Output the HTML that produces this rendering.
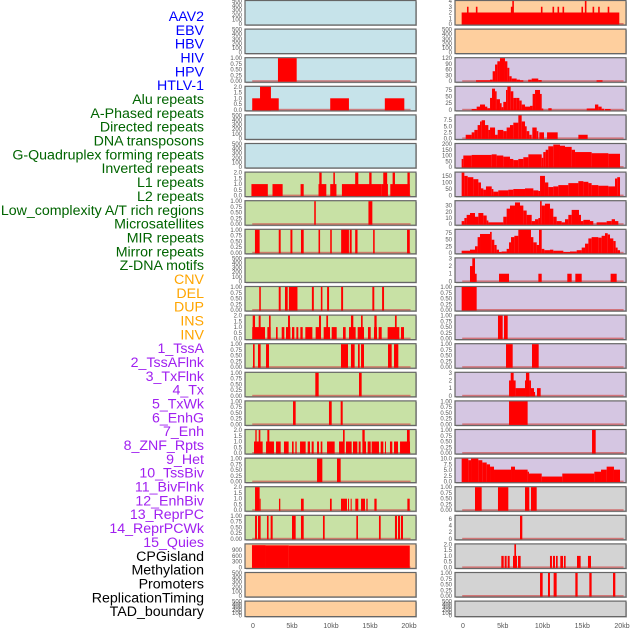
<!DOCTYPE html>
<html><head><meta charset="utf-8"><style>
html,body{margin:0;padding:0;background:#fff;}
svg{display:block;font-family:"Liberation Sans",sans-serif;}
</style></head><body>
<svg id="chart" width="630" height="630" viewBox="0 0 630 630"></svg>
<script>
const labelNames = ["AAV2","EBV","HBV","HIV","HPV","HTLV-1","Alu repeats","A-Phased repeats","Directed repeats","DNA transposons","G-Quadruplex forming repeats","Inverted repeats","L1 repeats","L2 repeats","Low_complexity A/T rich regions","Microsatellites","MIR repeats","Mirror repeats","Z-DNA motifs","CNV","DEL","DUP","INS","INV","1_TssA","2_TssAFlnk","3_TxFlnk","4_Tx","5_TxWk","6_EnhG","7_Enh","8_ZNF_Rpts","9_Het","10_TssBiv","11_BivFlnk","12_EnhBiv","13_ReprPC","14_ReprPCWk","15_Quies","CPGisland","Methylation","Promoters","ReplicationTiming","TAD_boundary"];
const labelColors = ["#0000ff","#0000ff","#0000ff","#0000ff","#0000ff","#0000ff","#006400","#006400","#006400","#006400","#006400","#006400","#006400","#006400","#006400","#006400","#006400","#006400","#006400","#ffa500","#ffa500","#ffa500","#ffa500","#ffa500","#a020f0","#a020f0","#a020f0","#a020f0","#a020f0","#a020f0","#a020f0","#a020f0","#a020f0","#a020f0","#a020f0","#a020f0","#a020f0","#a020f0","#a020f0","#000000","#000000","#000000","#000000","#000000"];
const trackBg = ["#c6e3ea","#c6e3ea","#c6e3ea","#c6e3ea","#c6e3ea","#c6e3ea","#c8e1a5","#c8e1a5","#c8e1a5","#c8e1a5","#c8e1a5","#c8e1a5","#c8e1a5","#c8e1a5","#c8e1a5","#c8e1a5","#c8e1a5","#c8e1a5","#c8e1a5","#fecf9e","#fecf9e","#fecf9e","#fecf9e","#fecf9e","#d5c6e2","#d5c6e2","#d5c6e2","#d5c6e2","#d5c6e2","#d5c6e2","#d5c6e2","#d5c6e2","#d5c6e2","#d5c6e2","#d5c6e2","#d5c6e2","#d5c6e2","#d5c6e2","#d5c6e2","#d3d3d3","#d3d3d3","#d3d3d3","#d3d3d3","#d3d3d3"];
const T500=[0,100,200,300,400,500], T1=[0,0.25,0.5,0.75,1], T2=[0,0.5,1,1.5,2];
const trackTicks = [T500,T500,T1,T2,T500,T500,T2,T1,T1,T500,T1,T2,T1,T1,T1,T2,T1,T2,T1,[0,300,600,900],T500,T500,
 [0,1,2,3,4],T500,[0,30,60,90,120],[0,25,50,75],[0,2.5,5,7.5],[0,50,100,150,200],[0,50,100,150],[0,10,20,30],[0,25,50,75],[0,1,2,3],T1,T1,T1,[0,1,2,3],T1,T1,[0,2.5,5,7.5,10],T1,[0,2,4,6],T2,T1,T500];
const trackYMax = [500,500,1,2,500,500,2,1,1,500,1,2,1,1,1,2,1,2,1,1200,500,500,
 4,500,120,87,9.5,200,175,37,88,3,1,1,1,3,1,1,10,1,7,2,1,500];
const trackSegs = [
 [],[],
 [[3.2,5.6,1]],
 [[-0.1,3.3,1],[0.9,2.3,2],[9.9,12.3,1],[16.9,19.4,1]],
 [],[],
 [[-0.2,1.9,1],[2.5,3.8,1],[6.1,6.5,1],[8.4,9.4,1],[8.5,8.8,2],[9.9,10.7,1],[10.3,10.5,2],[11.4,16.5,1],[13.1,13.5,2],[14.9,15.2,2],[16.5,17.3,1],[16.7,17.2,2],[17.6,20.1,1],[17.9,18.2,2],[19.8,20.1,2]],
 [[7.85,8.05,1],[14.8,15.3,1]],
 [[0.25,0.85,1],[3.3,3.55,1],[4.8,5.05,1],[6.15,6.5,1],[8.4,8.6,1],[9.9,10.1,1],[11.3,12.3,1],[12.4,12.65,1],[13.1,13.4,1],[15.4,15.6,1],[19.75,20.1,1]],
 [],
 [[0.8,1.0,1],[3.3,3.55,1],[4.1,4.45,1],[4.6,5.7,1],[7.55,7.8,1],[8.7,8.9,1],[9.5,9.75,1],[11.3,11.55,1],[15.3,15.55,1],[16.55,16.8,1]],
 [[-0.1,1.54,1],[-0.04,0.26,2],[0.73,0.98,2],[1.84,2.26,1],[2.05,2.26,2],[2.95,3.16,1],[3.68,4.02,1],[4.23,4.79,1],[4.49,4.74,2],[5.0,5.3,1],[5.56,5.81,1],[6.07,6.37,1],[6.71,7.61,1],[8.03,8.72,1],[8.46,8.72,2],[9.06,9.87,1],[9.4,9.62,2],[10.09,10.73,1],[11.54,11.88,1],[12.31,13.16,1],[12.56,12.86,2],[13.42,14.23,1],[13.85,14.06,2],[14.74,15.09,1],[15.51,15.9,1],[15.56,15.85,2],[16.11,16.5,1],[17.26,18.76,1],[18.2,18.42,2],[18.97,19.36,1]],
 [[0,0.21,1],[0.64,0.98,1],[1.67,2.05,1],[11.28,12.18,1],[12.56,13.03,1],[13.46,13.68,1],[13.85,14.23,1],[17.31,17.78,1],[18.08,18.63,1]],
 [[7.99,8.42,1],[13.59,13.93,1]],
 [[5.13,5.47,1],[9.74,10.09,1],[11.24,11.5,1]],
 [[0.13,1.24,1],[0.3,0.47,2],[0.73,0.94,2],[1.67,2.69,1],[1.84,2.09,2],[2.95,3.55,1],[3.97,4.57,1],[5.0,5.21,1],[5.43,5.6,1],[6.03,6.75,1],[7.01,7.31,1],[7.52,7.78,1],[8.21,8.46,1],[8.68,8.89,1],[9.49,10.47,1],[11.03,11.67,1],[11.54,11.75,2],[11.92,12.65,1],[12.82,13.38,1],[13.55,13.8,1],[14.1,14.49,1],[14.02,14.32,2],[14.7,15.09,1],[15.21,16.15,1],[16.37,16.71,1],[16.92,17.05,1],[17.56,17.86,1],[18.08,18.59,1],[18.85,20.13,1],[19.74,20.09,2]],
 [[8.21,8.89,1],[10.77,11.24,1]],
 [[0.26,0.85,2],[0.85,0.98,1],[3.33,3.5,1],[6.15,6.5,1],[9.87,10.09,1],[11.28,12.05,1],[12.18,12.31,1],[12.52,12.65,1],[13.12,13.5,1],[13.85,14.36,1],[14.53,14.7,1],[15.56,15.85,1],[19.79,20.09,1]],
 [[0.26,0.51,1],[0.64,0.98,1],[1.79,2.0,1],[2.26,2.52,1],[5.0,5.47,1],[6.15,6.5,1],[8.97,9.19,1],[13.25,13.46,1],[16.15,16.37,1],[18.2,18.46,1],[18.59,18.85,1],[18.97,19.23,1]],
 [[-0.13,1.6,1160],[1.6,4.6,1150],[4.6,20.1,1140]],
 [],[],
 [[-0.17,19.66,2],[0.5,0.7,3],[1.62,1.82,3],[6.02,6.22,3],[6.2,6.4,4],[9.8,10.0,3],[11.26,11.46,3],[11.89,12.09,3],[12.52,12.72,3],[14.9,15.1,3],[15.33,15.53,4],[16.3,16.5,3],[17.0,17.2,3],[18.2,18.4,3]],
 [],
 [[1.64,3.4,5],[3.4,3.73,8],[3.73,4.03,52],[4.03,4.32,87],[4.32,4.65,104],[4.65,5.28,120],[5.28,5.58,104],[5.58,5.83,70],[5.83,6.12,26],[6.12,6.75,14],[6.75,7.17,8],[7.17,7.59,5],[8.2,8.64,8],[8.64,9.47,14],[9.47,9.9,6],[16.8,17.55,5]],
 [[1.09,1.72,3],[1.72,2.14,12],[2.14,2.77,20],[2.77,3.06,12],[3.06,3.4,6],[3.4,3.65,45],[3.65,4.03,80],[4.03,4.23,70],[4.23,4.65,40],[4.65,4.86,25],[4.86,5.07,10],[5.07,5.41,30],[5.41,5.58,75],[5.58,6.0,88],[6.0,6.33,70],[6.33,6.75,45],[6.75,7.09,45],[7.09,7.38,35],[7.38,7.8,20],[7.8,8.43,12],[8.43,8.76,15],[8.76,9.06,60],[9.06,9.69,75],[9.69,9.9,60],[9.9,10.1,5],[10.73,11.15,6],[15.56,16.6,5],[16.6,17.02,20],[17.02,17.44,12],[17.44,17.74,4],[17.86,18.57,3]],
 [[0.34,1.09,1.5],[1.09,1.43,2.5],[1.43,1.84,3.5],[1.84,2.14,5.5],[2.14,2.35,7],[2.35,2.77,7.5],[2.77,3.19,5.5],[3.19,3.4,3.5],[3.4,4.03,4.5],[4.03,4.36,1.5],[4.36,5.07,3.5],[5.07,5.49,3],[5.49,5.91,4.5],[5.91,6.33,5.5],[6.33,6.96,6.5],[6.96,7.38,9.5],[7.38,7.8,7],[7.8,8.01,5],[8.01,8.34,3],[8.34,8.64,1.5],[8.72,9.27,4.5],[9.27,9.48,3],[9.6,10.19,2.5],[10.57,11.91,2.5],[14.51,15.68,1.5]],
 [[-0.17,0.04,70],[0.04,1.09,100],[1.09,3.61,105],[3.61,4.23,110],[4.23,5.07,100],[5.07,5.91,90],[5.91,6.33,70],[6.33,6.96,60],[6.96,7.59,70],[7.59,8.22,85],[8.22,9.9,110],[9.9,10.1,80],[10.1,10.4,130],[10.4,10.73,150],[10.73,11.36,180],[11.36,12.2,195],[12.2,12.83,185],[12.83,13.67,175],[13.67,14.09,150],[14.09,16.18,130],[16.18,18.28,120],[18.28,19.75,115]],
 [[-0.17,0.17,175],[0.17,0.59,150],[0.59,1.3,140],[1.3,1.93,125],[1.93,2.26,100],[2.26,2.56,55],[2.56,2.89,45],[2.89,3.61,70],[3.61,3.82,50],[3.82,4.44,30],[4.44,5.7,40],[5.7,6.33,45],[6.33,7.8,50],[7.8,8.85,55],[8.85,9.48,40],[9.48,9.69,35],[9.69,10.31,150],[10.31,10.73,100],[10.73,11.36,65],[11.36,11.99,70],[11.99,13.25,80],[13.25,14.51,95],[14.51,15.14,110],[15.14,15.77,105],[15.77,16.18,95],[16.18,17.02,80],[17.02,18.28,75],[18.28,19.12,70],[19.12,19.4,130],[19.4,19.75,140]],
 [[-0.17,0.17,5],[0.17,0.46,10],[0.46,0.88,15],[0.88,1.51,18],[1.51,1.93,12],[1.93,2.56,18],[2.56,2.98,14],[2.98,3.19,6],[3.19,5.07,3],[5.07,5.49,12],[5.49,5.91,25],[5.91,6.54,30],[6.54,7.17,35],[7.17,7.59,30],[7.59,8.01,22],[8.01,8.64,15],[8.64,9.06,5],[9.06,9.48,8],[9.48,9.69,10],[9.69,9.9,37],[9.9,10.31,30],[10.31,10.94,33],[10.94,11.36,25],[11.36,11.78,12],[11.78,12.41,5],[12.41,12.83,3],[12.83,13.25,8],[13.25,13.67,15],[13.67,14.59,23],[14.59,14.84,15],[14.84,15.14,5],[15.14,15.97,7],[15.97,16.39,5],[16.81,18.07,3],[18.07,18.7,5],[18.7,19.12,8],[19.12,19.54,5]],
 [[-0.17,0.88,8],[0.88,1.51,12],[1.51,1.84,25],[1.84,2.14,60],[2.14,3.4,72],[3.4,3.61,80],[3.61,3.94,50],[3.94,4.23,30],[4.23,4.53,12],[4.53,4.86,3],[4.86,5.49,5],[5.49,5.79,15],[5.79,6.04,40],[6.04,6.46,60],[6.46,6.96,65],[6.96,8.55,88],[8.55,8.85,60],[8.85,9.27,40],[9.27,9.56,30],[9.56,9.9,88],[9.9,10.23,15],[10.23,10.94,10],[10.94,11.36,12],[11.36,12.62,8],[12.62,13.46,3],[13.46,14.3,5],[14.3,14.93,10],[14.93,15.35,20],[15.35,15.77,35],[15.77,16.18,55],[16.18,17.02,60],[17.02,17.44,58],[17.44,17.86,65],[17.86,18.2,75],[18.2,18.49,70],[18.49,18.91,55],[18.91,19.2,45],[19.2,19.45,20],[19.45,19.75,10]],
 [[0.88,1.51,2],[1.17,1.51,3],[1.51,1.72,1],[4.53,5.79,1],[9.48,9.9,1],[13.12,13.67,1],[14.13,14.93,1],[18.57,19.33,1]],
 [[-0.17,1.72,1]],
 [[4.4,4.99,1],[5.16,5.62,1]],
 [[5.41,6.25,1],[8.68,9.52,1]],
 [[5.79,6.62,2],[6.0,6.37,3],[6.62,7.8,1],[7.8,8.34,2],[7.92,8.34,3],[8.34,8.55,2],[8.55,8.93,1],[8.93,9.06,0.5],[9.31,9.77,1]],
 [[5.79,8.13,1]],
 [[16.23,16.69,1]],
 [[-0.17,0.67,10],[0.67,1.01,9.3],[1.01,1.93,10],[1.93,2.43,9.3],[2.43,2.98,8.3],[2.98,3.4,7.5],[3.4,3.9,6.5],[3.9,6.04,5.2],[6.04,6.54,6.5],[6.54,8.13,5.2],[8.13,8.3,4.3],[8.3,9.9,3.5],[9.9,12.49,2.2],[12.49,16.52,3.5],[16.52,17.36,4.3],[17.36,18.07,5.2],[18.07,18.99,6.5],[18.99,19.75,5.2]],
 [[1.51,2.35,1],[4.4,5.7,1],[7.8,8.34,1],[8.55,9.27,1]],
 [[7.17,7.46,7]],
 [[4.82,5.12,1],[5.24,5.49,1],[5.62,5.87,1],[6.29,6.79,1],[6.46,6.67,2],[6.92,7.25,1],[10.94,11.19,1],[11.32,11.57,1],[11.7,11.91,1],[12.24,12.58,1],[12.7,12.91,1],[14.34,14.8,1],[15.72,16.1,1]],
 [[9.69,10.02,1],[10.69,10.94,1],[11.4,11.78,1],[14.13,14.42,1],[15.89,16.18,1],[18.87,19.16,1]],
 []
];
const xTickValues = [0,5,10,15,20];
const xTickLabels = ["0","5kb","10kb","15kb","20kb"];

const NS="http://www.w3.org/2000/svg";
const svg=document.getElementById('chart');
function mk(tag,attrs,parent){const e=document.createElementNS(NS,tag);for(const k in attrs)e.setAttribute(k,attrs[k]);(parent||svg).appendChild(e);return e;}
function decimalsOf(v){const s=String(v);return s.indexOf('.')<0?0:s.length-s.indexOf('.')-1;}

labelNames.forEach((n,j)=>{
  const t=mk('text',{x:204,y:16+j*13.84+5,'text-anchor':'end','font-size':'14.2',fill:labelColors[j]});
  
  
  t.textContent=n;
});

const cols=[{px0:245,px1:416,x0:253,ppk:7.8},{px0:455,px1:626,x0:463,ppk:7.95}];
function xScale(c,kb){return cols[c].x0+kb*cols[c].ppk;}

for(let i=0;i<44;i++){
  const c=i<22?0:1, r=i%22;
  const top=0.5+r*28.6, h=(r===21)?15.5:24.5;
  const yZero=top+h-1, yTop=top+0.5;
  const ymax=trackYMax[i];
  const ys=v=>yZero-(v/ymax)*(yZero-yTop);
  const g=mk('g',{});
  
  
  const C=cols[c];
  mk('rect',{x:C.px0+1,y:top+1,width:C.px1-C.px0,height:h,fill:'#bbb'},g);
  mk('rect',{x:C.px0,y:top,width:C.px1-C.px0,height:h,fill:trackBg[i],stroke:'#666','stroke-width':1.2},g);
  const segs=trackSegs[i];
  if(segs.length){
    mk('rect',{x:xScale(c,-0.1),y:yZero-1,width:xScale(c,20.2)-xScale(c,-0.1),height:1.5,fill:'#d05050',opacity:0.7},g);
  }
  segs.forEach(s=>{
    const y1=ys(s[2]);
    const b=mk('rect',{x:xScale(c,s[0]),y:y1,width:Math.max(0.8,xScale(c,s[1])-xScale(c,s[0])),height:yZero-y1+0.5,fill:'#ff0000'},g);
    
    
  });
  const ticks=trackTicks[i];
  const dec=Math.max(...ticks.map(decimalsOf));
  ticks.forEach(t=>{
    const tx=mk('text',{x:C.px0-3,y:ys(t)+2,'text-anchor':'end','font-size':'6',fill:'#555'},g);
    
    
    tx.textContent=t.toFixed(dec);
  });
}
[0,1].forEach(c=>{
  xTickValues.forEach((v,k)=>{
    const t=mk('text',{x:xScale(c,v),y:628,'text-anchor':'middle','font-size':'7',fill:'#555'});
    
    
    t.textContent=xTickLabels[k];
  });
});
</script>
</body></html>
